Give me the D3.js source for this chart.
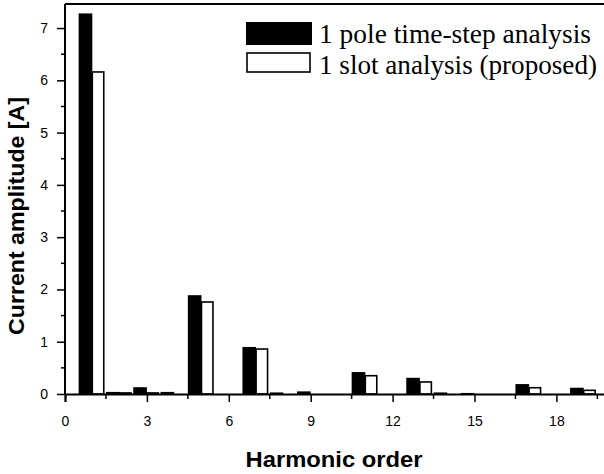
<!DOCTYPE html>
<html>
<head>
<meta charset="utf-8">
<script src="https://cdn.jsdelivr.net/npm/d3@7"></script>
<style>
  body { margin: 0; background: #fff; }
  svg { display: block; }
</style>
</head>
<body>
<div id="chart"></div>
<script>
// harmonic orders and the two series
const harmonics = [1, 2, 3, 4, 5, 6, 7, 8, 9, 10, 11, 12, 13, 14, 15, 16, 17, 18, 19];
const poleTimeStep = [7.28, 0.04, 0.13, 0.04, 1.89, 0, 0.90, 0.03, 0.05, 0, 0.42, 0, 0.31, 0.03, 0.02, 0, 0.19, 0, 0.12];
const slotAnalysis = [6.16, 0.02, 0.02, 0.01, 1.76, 0, 0.86, 0.01, 0.01, 0, 0.35, 0, 0.23, 0.01, 0.01, 0, 0.12, 0, 0.07];
const xTicks = [0, 3, 6, 9, 12, 15, 18];
const yTicks = [0, 1, 2, 3, 4, 5, 6, 7];
const seriesNames = ["1 pole time-step analysis", "1 slot analysis (proposed)"];

const W = 604, H = 474;
const margin = {top: 4, right: 0, bottom: 80, left: 65};

const svg = d3.select("#chart").append("svg")
    .attr("width", W)
    .attr("height", H);

const x = d3.scaleLinear().domain([0, 20]).range([margin.left, 611]);
const y = d3.scaleLinear().domain([0, 7.46]).range([394, margin.top]);

const data = harmonics.map((h, i) => ({h, a: poleTimeStep[i], b: slotAnalysis[i]}));

// bars: black to the left of each order, white to the right
svg.append("g").selectAll("rect")
    .data(data)
    .join("rect")
    .attr("x", d => x(d.h - 0.5))
    .attr("y", d => y(d.a))
    .attr("width", x(0.5) - x(0))
    .attr("height", d => y(0) - y(d.a))
    .attr("fill", "#000");

svg.append("g").selectAll("rect")
    .data(data.filter(d => d.b > 0.015))
    .join("rect")
    .attr("x", d => x(d.h))
    .attr("y", d => y(d.b))
    .attr("width", x(0.42) - x(0))
    .attr("height", d => y(0) - y(d.b))
    .attr("fill", "#fff")
    .attr("stroke", "#000")
    .attr("stroke-width", 1.6);

// top frame line
svg.append("line")
    .attr("x1", margin.left).attr("x2", W)
    .attr("y1", margin.top).attr("y2", margin.top)
    .attr("stroke", "#000").attr("stroke-width", 2);

// Y axis
const yAxis = svg.append("g")
    .attr("transform", `translate(${margin.left},0)`)
    .call(d3.axisLeft(y).tickValues(yTicks).tickSize(8).tickFormat(d3.format("d")));
yAxis.append("g").selectAll("line")
    .data(d3.range(0.5, 7.5, 1))
    .join("line")
    .attr("x1", -4).attr("x2", 0)
    .attr("y1", d => y(d)).attr("y2", d => y(d))
    .attr("stroke", "#000").attr("stroke-width", 1.5);
yAxis.select(".domain").attr("d", `M0,${margin.top}V${y(0)}`);

// X axis
const xAxis = svg.append("g")
    .attr("transform", `translate(0,${y(0)})`)
    .call(d3.axisBottom(x).tickValues(xTicks).tickSize(8).tickFormat(d3.format("d")));
xAxis.append("g").selectAll("line")
    .data(d3.range(1.5, 20, 3))
    .join("line")
    .attr("x1", d => x(d)).attr("x2", d => x(d))
    .attr("y1", 0).attr("y2", 5)
    .attr("stroke", "#000").attr("stroke-width", 1.5);

svg.selectAll(".domain").attr("stroke-width", 2);
svg.selectAll(".tick line").attr("stroke-width", 1.5);
svg.selectAll(".tick text")
    .style("font-family", "'Liberation Sans', Arial, sans-serif")
    .style("font-size", "14px");
yAxis.selectAll(".tick text").attr("x", -17);
xAxis.selectAll(".tick text").attr("y", 22);

// axis titles
svg.append("text")
    .attr("transform", `translate(24,216) rotate(-90)`)
    .attr("text-anchor", "middle")
    .attr("textLength", 238)
    .attr("lengthAdjust", "spacingAndGlyphs")
    .style("font-family", "'Liberation Sans', Arial, sans-serif")
    .style("font-weight", "bold")
    .style("font-size", "22px")
    .text("Current amplitude [A]");

svg.append("text")
    .attr("x", 334).attr("y", 467)
    .attr("text-anchor", "middle")
    .attr("textLength", 177)
    .attr("lengthAdjust", "spacingAndGlyphs")
    .style("font-family", "'Liberation Sans', Arial, sans-serif")
    .style("font-weight", "bold")
    .style("font-size", "22px")
    .text("Harmonic order");

// legend
const legend = svg.append("g");
legend.append("rect")
    .attr("x", 246).attr("y", 22).attr("width", 66).attr("height", 23)
    .attr("fill", "#000");
legend.append("rect")
    .attr("x", 247).attr("y", 53).attr("width", 63).attr("height", 19)
    .attr("fill", "#fff").attr("stroke", "#000").attr("stroke-width", 1.6);
legend.selectAll("text")
    .data(seriesNames)
    .join("text")
    .attr("x", 319)
    .attr("y", (d, i) => 43 + i * 31)
    .attr("textLength", (d, i) => i === 0 ? 272 : 278)
    .attr("lengthAdjust", "spacingAndGlyphs")
    .style("font-family", "'Liberation Serif', 'DejaVu Serif', serif")
    .style("font-size", "27px")
    .text(d => d);
</script>
</body>
</html>
